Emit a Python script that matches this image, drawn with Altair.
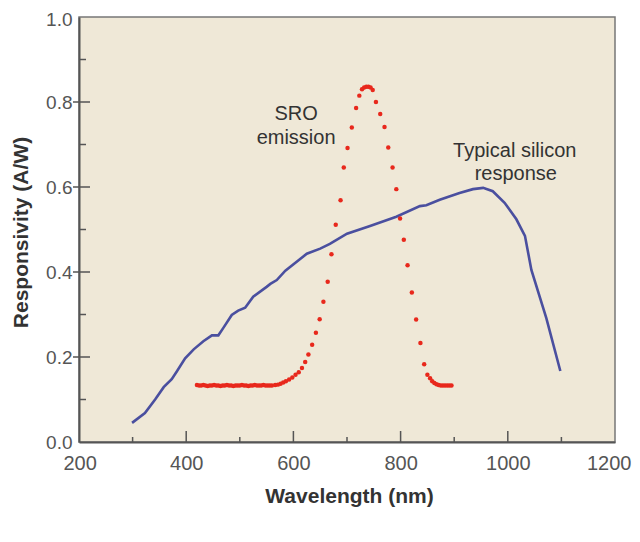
import altair as alt
import pandas as pd

# Typical silicon response (blue line)
si_nm = [299, 323, 342, 358, 373, 383, 398, 414, 432, 448, 460, 469, 485, 497,
         510, 525, 550, 557, 569, 585, 625, 650, 668, 700, 743, 792, 836, 848,
         873, 910, 935, 954, 972, 994, 1016, 1032, 1044, 1072, 1098]
si_val = [0.045, 0.068, 0.100, 0.129, 0.148, 0.167, 0.197, 0.218, 0.237, 0.251,
          0.251, 0.268, 0.299, 0.309, 0.316, 0.342, 0.365, 0.372, 0.381, 0.403,
          0.443, 0.455, 0.466, 0.490, 0.508, 0.530, 0.555, 0.557, 0.570, 0.586,
          0.595, 0.598, 0.590, 0.563, 0.524, 0.485, 0.405, 0.291, 0.167]

# SRO emission (red dots)
sro_nm = [420, 424, 428, 432, 436, 440, 444, 448, 452, 456, 460, 464, 468, 472,
          476, 480, 484, 488, 492, 496, 500, 504, 508, 512, 516, 520, 524, 528,
          532, 536, 540, 544, 548, 552, 556, 560, 566, 571, 576, 581, 586, 592,
          598, 604, 610, 616, 622, 628, 635, 642, 649, 656, 664, 671, 679, 688,
          694, 701, 709, 717, 723, 728, 732, 736, 740, 744, 748, 754, 762, 770,
          777, 785, 792, 799, 806, 813, 821, 829, 837, 844, 850, 855, 859, 863,
          867, 871, 875, 879, 883, 887, 891, 895]
sro_val = [0.134, 0.133, 0.133, 0.134, 0.133, 0.132, 0.133, 0.133, 0.134, 0.133,
           0.133, 0.132, 0.133, 0.133, 0.134, 0.133, 0.133, 0.132, 0.133, 0.133,
           0.133, 0.134, 0.133, 0.133, 0.132, 0.133, 0.133, 0.134, 0.133, 0.133,
           0.133, 0.134, 0.133, 0.133, 0.133, 0.133, 0.134, 0.135, 0.137, 0.140,
           0.143, 0.147, 0.152, 0.158, 0.164, 0.174, 0.188, 0.206, 0.229, 0.257,
           0.289, 0.330, 0.377, 0.442, 0.511, 0.569, 0.646, 0.692, 0.740, 0.786,
           0.815, 0.830, 0.834, 0.836, 0.836, 0.834, 0.828, 0.800, 0.772, 0.741,
           0.693, 0.646, 0.595, 0.526, 0.476, 0.416, 0.352, 0.288, 0.233, 0.183,
           0.158, 0.150, 0.143, 0.139, 0.136, 0.134, 0.133, 0.133, 0.133, 0.133,
           0.133, 0.133]

# Axis ticks and labels
x_labels = [200, 400, 600, 800, 1000, 1200]
x_major_ticks = [400, 600, 800, 1000]
x_minor_ticks = [300, 500, 700, 900, 1100]
y_labels = [0.0, 0.2, 0.4, 0.6, 0.8, 1.0]
y_major_ticks = [0.2, 0.4, 0.6, 0.8]
y_minor_ticks = [0.1, 0.3, 0.5, 0.7, 0.9]

# Annotations
ann_text = ["SRO", "emission", "Typical silicon", "response"]
ann_nm = [605, 605, 1013, 1015]
ann_val = [0.758, 0.702, 0.670, 0.617]

FONT = "Liberation Sans"
AXIS_COLOR = "#555555"

df_si = pd.DataFrame({"nm": si_nm, "r": si_val})
df_sro = pd.DataFrame({"nm": sro_nm, "r": sro_val})
df_ann = pd.DataFrame({"label": ann_text, "nm": ann_nm, "r": ann_val})

xs = alt.Scale(domain=[200, 1200], nice=False, zero=False)
ys = alt.Scale(domain=[0, 1], nice=False, zero=False)

x_axis = alt.Axis(
    values=x_labels, format="d", ticks=False, grid=False,
    domainColor=AXIS_COLOR, domainWidth=2,
    labelFont=FONT, labelFontSize=20, labelColor="#555555", labelPadding=11,
    labelFlush=True, labelFlushOffset=16,
    title="Wavelength (nm)", titleFont=FONT, titleFontSize=21,
    titleFontWeight="bold", titleColor="#333333",
    titleX=270, titleY=60, titleAlign="center", titleBaseline="alphabetic",
)
y_axis = alt.Axis(
    values=y_labels, format=".1f", ticks=False, grid=False,
    domainColor=AXIS_COLOR, domainWidth=2,
    labelFont=FONT, labelFontSize=19, labelColor="#555555", labelPadding=7,
    labelOffset={"condition": {"test": "datum.value >= 1", "value": 2}, "value": 0},
    title="Responsivity (A/W)", titleFont=FONT, titleFontSize=21,
    titleFontWeight="bold", titleColor="#333333", titleAngle=270,
    titleX=-52, titleY=215, titleAlign="center", titleBaseline="alphabetic",
)


def X(field):
    return alt.X(field, scale=xs, axis=x_axis)


def Y(field):
    return alt.Y(field, scale=ys, axis=y_axis)


si_line = alt.Chart(df_si).mark_line(color="#4a4f9f", strokeWidth=2.6).encode(
    x=X("nm:Q"), y=Y("r:Q"),
)

sro_dots = alt.Chart(df_sro).mark_circle(color="#e8281c", size=20, opacity=1).encode(
    x=X("nm:Q"), y=Y("r:Q"),
)

xmaj = alt.Chart(pd.DataFrame({"t": x_major_ticks})).mark_rule(
    color=AXIS_COLOR, strokeWidth=1.5).encode(
    x=X("t:Q"), y=alt.value(425), y2=alt.value(414))
xmin = alt.Chart(pd.DataFrame({"t": x_minor_ticks})).mark_rule(
    color=AXIS_COLOR, strokeWidth=1.5).encode(
    x=X("t:Q"), y=alt.value(425), y2=alt.value(420))
ymaj = alt.Chart(pd.DataFrame({"t": y_major_ticks})).mark_rule(
    color=AXIS_COLOR, strokeWidth=1.5).encode(
    y=Y("t:Q"), x=alt.value(-6), x2=alt.value(11))
ymin = alt.Chart(pd.DataFrame({"t": y_minor_ticks})).mark_rule(
    color=AXIS_COLOR, strokeWidth=1.5).encode(
    y=Y("t:Q"), x=alt.value(0), x2=alt.value(7))

ann = alt.Chart(df_ann).mark_text(
    font=FONT, fontSize=20, color="#333333", align="center", baseline="alphabetic"
).encode(
    x=X("nm:Q"), y=Y("r:Q"),
    text="label:N",
)

chart = alt.layer(si_line, xmaj, xmin, ymaj, ymin, sro_dots, ann).properties(
    width=536, height=425,
    autosize=alt.AutoSizeParams(type="none"),
    padding={"left": 71, "top": 9, "right": 17, "bottom": 80},
    background="white",
).configure_view(
    stroke="#777777", strokeWidth=1.5, fill="#efe8d7"
)

chart.save("out.html", embed_options={"renderer": "svg", "actions": False})
